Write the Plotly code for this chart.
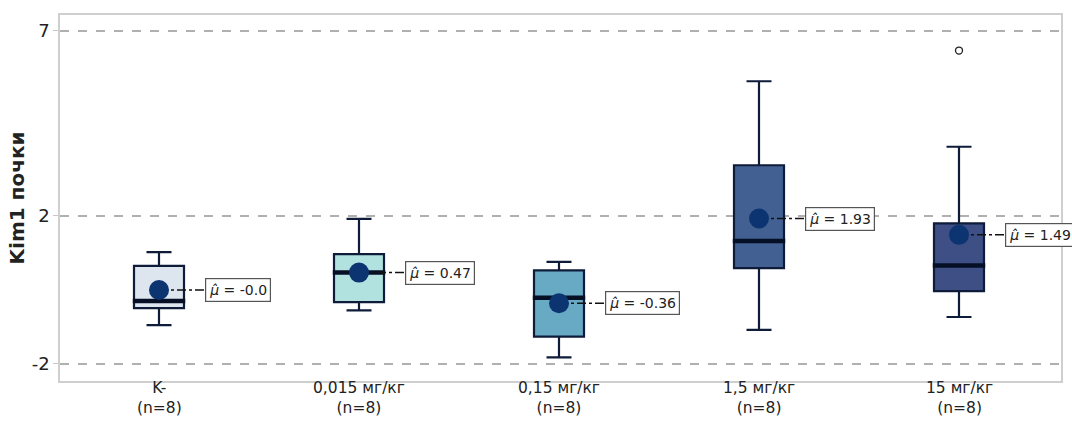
import plotly.graph_objects as go

# Groups and summary statistics of Kim1 (kidney)
groups = ["K-", "0,015 мг/кг", "0,15 мг/кг", "1,5 мг/кг", "15 мг/кг"]
n_obs = [8, 8, 8, 8, 8]
lower_whisker = [-0.95, -0.55, -1.82, -1.08, -0.73]
q1 = [-0.49, -0.33, -1.26, 0.59, -0.03]
median = [-0.30, 0.47, -0.21, 1.32, 0.66]
q3 = [0.65, 0.97, 0.53, 3.37, 1.80]
upper_whisker = [1.02, 1.92, 0.76, 5.64, 3.87]
means = [-0.0, 0.47, -0.36, 1.93, 1.49]
outlier_group = [4]
outlier_value = [6.47]

fills = ["#dde6ee", "#b2e2df", "#68a9c4", "#426192", "#3e4f86"]
edge = "#0e1c3a"
mean_color = "#0c3470"

fig = go.Figure()
xs = list(range(len(groups)))
half_w = 0.125

for i in xs:
    fig.add_trace(go.Box(
        x=[i], q1=[q1[i]], median=[median[i]], q3=[q3[i]],
        lowerfence=[lower_whisker[i]], upperfence=[upper_whisker[i]],
        width=0.25, whiskerwidth=0.5,
        fillcolor=fills[i], line=dict(color=edge, width=2.2),
        boxpoints=False, hoverinfo="skip", showlegend=False,
    ))
    # thick median bar
    fig.add_trace(go.Scatter(
        x=[i - half_w - 0.006, i + half_w + 0.006], y=[median[i], median[i]],
        mode="lines", line=dict(color="#050f26", width=4.5),
        hoverinfo="skip", showlegend=False,
    ))
    # dash-dot leader from the mean to its label
    fig.add_trace(go.Scatter(
        x=[i, i + 0.23], y=[means[i], means[i]],
        mode="lines", line=dict(color="#111111", width=1.6, dash="dashdot"),
        hoverinfo="skip", showlegend=False,
    ))
    fig.add_annotation(
        x=i + 0.23, y=means[i], xref="x", yref="y",
        text=f"<i>μ̂</i> = {means[i]}", showarrow=False,
        xanchor="left", yanchor="middle",
        font=dict(family="DejaVu Sans", size=14, color="#222222"),
        bgcolor="white", bordercolor="#555555", borderwidth=1.2, borderpad=3,
    )
    # two-line category label under the axis
    fig.add_annotation(
        x=i, y=0, xref="x", yref="paper",
        text=f"{groups[i]}<br>(n={n_obs[i]})", showarrow=False,
        xanchor="center", yanchor="top", yshift=3, borderpad=0,
        font=dict(family="DejaVu Sans", size=15.5, color="#222222"),
    )

# group means
fig.add_trace(go.Scatter(
    x=xs, y=means, mode="markers",
    marker=dict(color=mean_color, size=20, line=dict(width=0)),
    hoverinfo="skip", showlegend=False,
))

# outliers
fig.add_trace(go.Scatter(
    x=outlier_group, y=outlier_value, mode="markers",
    marker=dict(symbol="circle-open", color="#222222", size=7, line=dict(width=1.3)),
    hoverinfo="skip", showlegend=False,
))

fig.update_layout(
    width=1072, height=422,
    margin=dict(l=60, r=11, t=15, b=41),
    plot_bgcolor="white", paper_bgcolor="white",
    font=dict(family="DejaVu Sans", color="#222222"),
    xaxis=dict(
        range=[-0.495, 4.51], tickmode="array", tickvals=xs,
        showticklabels=False,
        showgrid=False, zeroline=False, ticks="", automargin=False,
        showline=True, mirror=True, linecolor="#cfcfcf", linewidth=1.5,
    ),
    yaxis=dict(
        range=[-2.46, 7.43], tickmode="array", tickvals=[-2, 2, 7],
        ticktext=["-2", "2", "7"], tickfont=dict(size=18),
        showgrid=True, gridcolor="#b0b0b0", gridwidth=1.5, griddash="dash",
        zeroline=False, ticks="outside", ticklen=5, tickcolor="#c8c8c8",
        automargin=False,
        showline=True, mirror=True, linecolor="#cfcfcf", linewidth=1.5,
        title=dict(text="<b>Kim1 почки</b>", font=dict(size=20), standoff=2),
    ),
)

fig.write_html("out.html")
